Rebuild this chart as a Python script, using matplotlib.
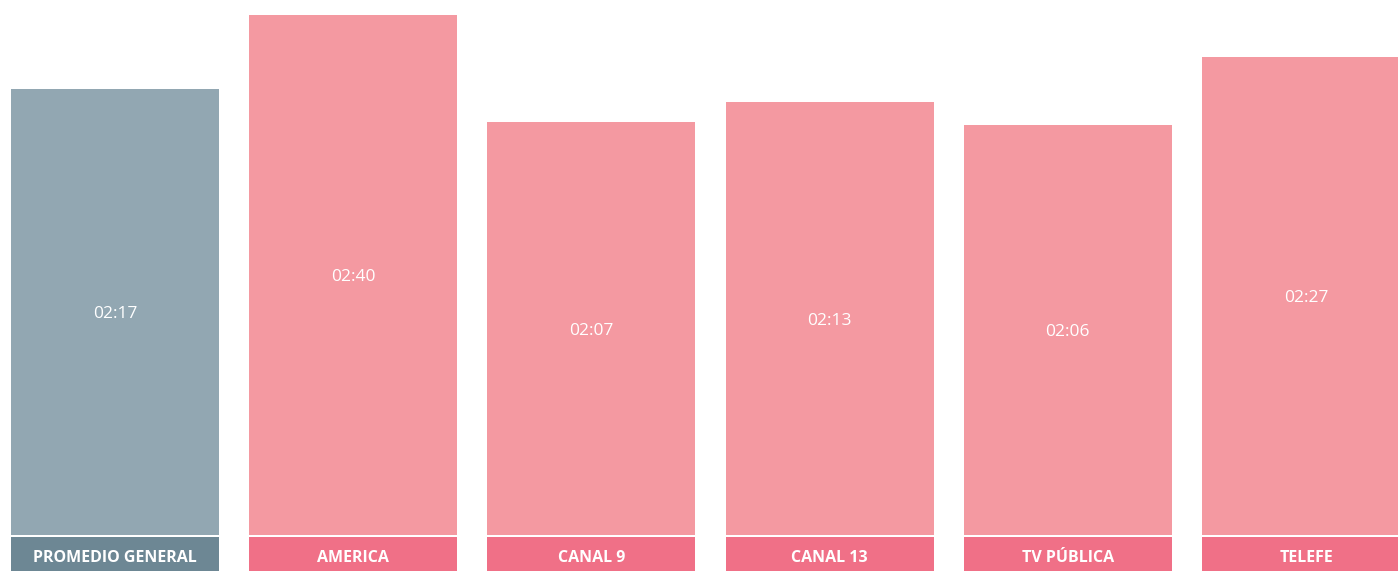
import matplotlib.pyplot as plt

channels = ['PROMEDIO GENERAL', 'AMERICA', 'CANAL 9', 'CANAL 13', 'TV PÚBLICA', 'TELEFE']
durations = ['02:17', '02:40', '02:07', '02:13', '02:06', '02:27']

bar_colors = ['#92a7b2', '#f499a1', '#f499a1', '#f499a1', '#f499a1', '#f499a1']
strip_colors = ['#6d8794', '#f07087', '#f07087', '#f07087', '#f07087', '#f07087']


def to_minutes(s):
    a, b = s.split(':')
    return int(a) * 60 + int(b)


values = [to_minutes(d) for d in durations]

plt.rcParams['font.family'] = ['Open Sans', 'DejaVu Sans']

fig = plt.figure(figsize=(13.98, 5.71), dpi=100)
ax = fig.add_axes([0, 0, 1, 1])

# layout in pixels: pitch 238.2, bar width 208, baseline at 534.5px, 3.25 px per unit
pitch = 238.2
width = 208 / pitch
scale = 3.25
x = list(range(len(channels)))

ax.bar(x, values, width=width, color=bar_colors, linewidth=0)
strip_top = -2.5 / scale
strip_bottom = -40 / scale
ax.bar(x, [strip_top - strip_bottom] * len(x), bottom=strip_bottom,
       width=width, color=strip_colors, linewidth=0)

for i, (v, d, name) in enumerate(zip(values, durations, channels)):
    ax.text(i, v / 2 - 2.5 / scale, d, ha='center', va='center', color='white', fontsize=12.5)
    ax.text(i, -23 / scale, name, ha='center', va='center',
            color='white', fontsize=11.5, fontweight='bold')

ax.set_xlim(-115 / pitch, (1398 - 115) / pitch)
ax.set_ylim(-36.5 / scale, 534.5 / scale)
ax.axis('off')

fig.savefig('out.png', dpi=100)
